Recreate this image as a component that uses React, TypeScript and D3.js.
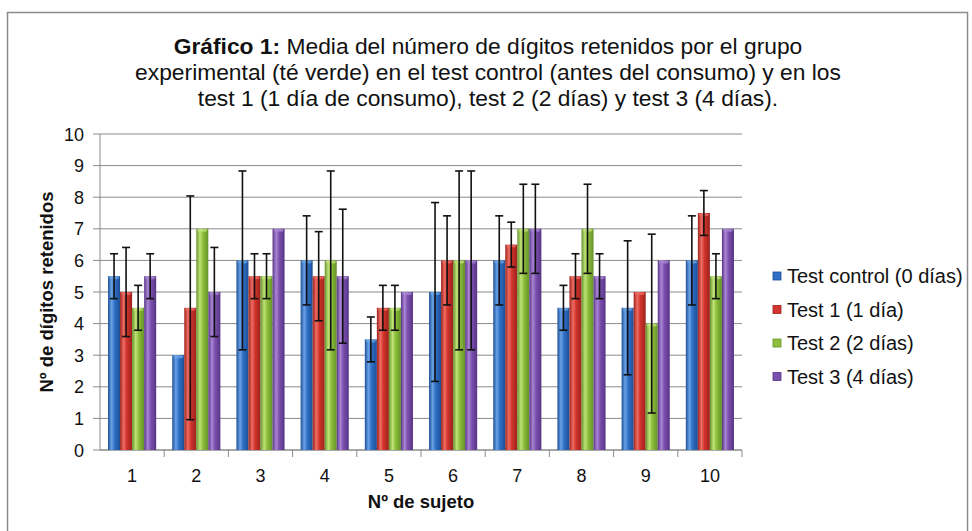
import React from "react";
import * as d3 from "d3";

const categories = ["1", "2", "3", "4", "5", "6", "7", "8", "9", "10"];
const seriesNames = ["Test control (0 días)", "Test 1 (1 día)", "Test 2 (2 días)", "Test 3 (4 días)"];
const testControl = [5.5, 3, 6, 6, 3.5, 5, 6, 4.5, 4.5, 6];
const test1 = [5, 4.5, 5.5, 5.5, 4.5, 6, 6.5, 5.5, 5, 7.5];
const test2 = [4.5, 7, 5.5, 6, 4.5, 6, 7, 7, 4, 5.5];
const test3 = [5.5, 5, 7, 5.5, 5, 6, 7, 5.5, 6, 7];
const errControl = [0.71, 0, 2.83, 1.41, 0.71, 2.83, 1.41, 0.71, 2.12, 1.41];
const err1 = [1.41, 3.54, 0.71, 1.41, 0.71, 1.41, 0.71, 0.71, 0, 0.71];
const err2 = [0.71, 0, 0.71, 2.83, 0.71, 2.83, 1.41, 1.41, 2.83, 0.71];
const err3 = [0.71, 1.41, 0, 2.12, 0, 2.83, 1.41, 0.71, 0, 0];
const yTicks = [0, 1, 2, 3, 4, 5, 6, 7, 8, 9, 10];
const titleLines = [
  "experimental (té verde) en el test control (antes del consumo) y en los",
  "test 1 (1 día de consumo), test 2 (2 días) y test 3 (4 días).",
];

const colors = [
  { base: "#2f6fc6", light: "#6aa2e6", dark: "#1c4f96" },
  { base: "#d0342c", light: "#ee6d64", dark: "#9c221c" },
  { base: "#8cbf3a", light: "#c0e27a", dark: "#64912a" },
  { base: "#7b4fae", light: "#aa86d4", dark: "#573585" },
];

export default function App() {
  const W = 972, H = 531;
  const left = 100, right = 742, top = 134, bottom = 450;
  const values = [testControl, test1, test2, test3];
  const errors = [errControl, err1, err2, err3];
  const x0 = d3.scaleBand().domain(categories).range([left, right]).paddingInner(0.25).paddingOuter(0.125);
  const x1 = d3.scaleBand().domain(seriesNames).range([0, x0.bandwidth()]).padding(0);
  const y = d3.scaleLinear().domain([0, 10]).range([bottom, top]);
  const font = "'Liberation Sans', Arial, sans-serif";
  const step = (right - left) / categories.length;

  return (
    <svg width={W} height={H} style={{ position: "absolute", left: 0, top: 0, background: "#fff" }}>
      <defs>
        {colors.map((c, i) => (
          <linearGradient key={i} id={`g${i}`} x1="0" x2="1" y1="0" y2="0">
            <stop offset="0%" stopColor={c.dark} />
            <stop offset="30%" stopColor={c.light} />
            <stop offset="55%" stopColor={c.base} />
            <stop offset="100%" stopColor={c.dark} />
          </linearGradient>
        ))}
      </defs>
      <rect x={7.5} y={12.5} width={960} height={530} fill="#fff" stroke="#8c8c8c" strokeWidth={1.5} />
      <text x={488} y={54} textAnchor="middle" fontFamily={font} fontSize={22.8} fill="#111">
        <tspan fontWeight="bold">Gráfico 1:</tspan> Media del número de dígitos retenidos por el grupo
      </text>
      {titleLines.map((l, i) => (
        <text key={i} x={488} y={80 + i * 26} textAnchor="middle" fontFamily={font} fontSize={22.8} fill="#111">{l}</text>
      ))}

      {yTicks.map((t) => (
        <g key={t}>
          <line x1={left} x2={right} y1={y(t)} y2={y(t)} stroke="#8a8a8a" strokeWidth={1} />
          <line x1={left - 7} x2={left} y1={y(t)} y2={y(t)} stroke="#8a8a8a" strokeWidth={1} />
          <text x={left - 16} y={y(t) + 6.5} textAnchor="end" fontFamily={font} fontSize={18} fill="#111">{t}</text>
        </g>
      ))}
      <line x1={left} x2={left} y1={top} y2={bottom} stroke="#8a8a8a" strokeWidth={1} />
      {categories.map((c, i) => (
        <line key={c} x1={left + step * (i + 1)} x2={left + step * (i + 1)} y1={bottom} y2={bottom + 7} stroke="#8a8a8a" />
      ))}
      <line x1={left} x2={right} y1={bottom} y2={bottom} stroke="#8a8a8a" />

      {categories.map((c, ci) => (
        <g key={c}>
          {seriesNames.map((s, si) => {
            const v = values[si][ci];
            const bx = (x0(c) as number) + (x1(s) as number);
            const bw = x1.bandwidth();
            return (
              <g key={s}>
                <rect x={bx} y={y(v)} width={bw} height={bottom - y(v)} fill={`url(#g${si})`} />
                <ellipse cx={bx + bw / 2} cy={y(v) + 1.5} rx={bw / 2 - 1} ry={1.5} fill={colors[si].light} opacity={0.8} />
              </g>
            );
          })}
        </g>
      ))}
      {categories.map((c, ci) => (
        <g key={"e" + c}>
          {seriesNames.map((s, si) => {
            const v = values[si][ci];
            const e = errors[si][ci];
            if (!e) return null;
            const cx = (x0(c) as number) + (x1(s) as number) + x1.bandwidth() / 2;
            return (
              <g key={s} stroke="#111" strokeWidth={1.6}>
                <line x1={cx} x2={cx} y1={y(v + e)} y2={y(v - e)} />
                <line x1={cx - 4} x2={cx + 4} y1={y(v + e)} y2={y(v + e)} />
                <line x1={cx - 4} x2={cx + 4} y1={y(v - e)} y2={y(v - e)} />
              </g>
            );
          })}
        </g>
      ))}

      {categories.map((c) => (
        <text key={"t" + c} x={(x0(c) as number) + x0.bandwidth() / 2} y={482} textAnchor="middle" fontFamily={font} fontSize={18} fill="#111">{c}</text>
      ))}
      <text x={(left + right) / 2} y={508} textAnchor="middle" fontFamily={font} fontSize={18.5} fontWeight="bold" fill="#111">Nº de sujeto</text>
      <text transform={`translate(53,${(top + bottom) / 2}) rotate(-90)`} textAnchor="middle" fontFamily={font} fontSize={18.5} fontWeight="bold" fill="#111">Nº de dígitos retenidos</text>

      {seriesNames.map((s, i) => {
        const ly = 276 + i * 33.5;
        return (
          <g key={"l" + s}>
            <rect x={773} y={ly - 4} width={8} height={8} fill={colors[i].base} stroke={colors[i].dark} strokeWidth={0.8} />
            <text x={787} y={ly + 7} fontFamily={font} fontSize={20} fill="#111">{s}</text>
          </g>
        );
      })}
    </svg>
  );
}
